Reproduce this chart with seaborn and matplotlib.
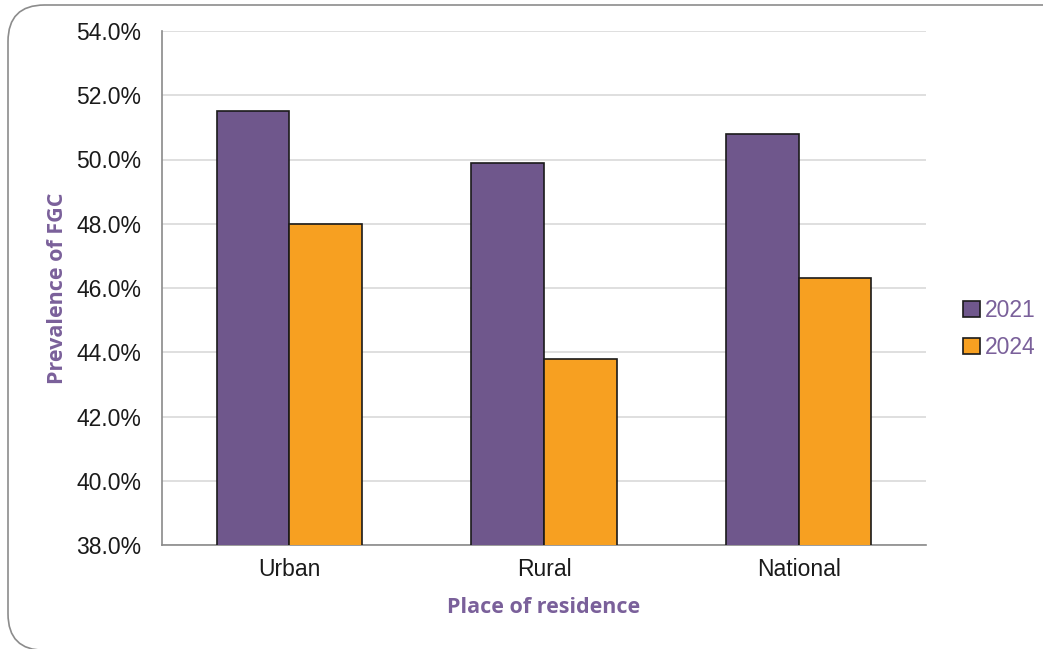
import pandas as pd
import matplotlib.pyplot as plt
import seaborn as sns
from matplotlib.patches import FancyBboxPatch
from matplotlib.ticker import FuncFormatter

# Data
places = ['Urban', 'Rural', 'National']
prev_2021 = [51.5, 49.9, 50.8]
prev_2024 = [48.0, 43.8, 46.3]
years = ['2021', '2024']

df = pd.DataFrame({
    'Place': places * 2,
    'Year': ['2021'] * 3 + ['2024'] * 3,
    'Prevalence': prev_2021 + prev_2024,
})

sns.set_style('white')
plt.rcParams['font.family'] = ['Liberation Sans', 'DejaVu Sans']

purple = '#6F578C'
orange = '#F7A021'
label_col = '#7A609A'

W, H = 1043, 649
fig = plt.figure(figsize=(W / 100, H / 100), dpi=100, facecolor='white')

# rounded frame around the whole chart
frame = FancyBboxPatch((8 / W, -0.002), 1.05, 1 - 5 / H + 0.002,
                       boxstyle='round,pad=0,rounding_size=0.035',
                       transform=fig.transFigure, fc='none', ec='#8c8c8c',
                       lw=1.2, mutation_aspect=W / H, zorder=-1)
fig.patches.append(frame)

ax = fig.add_axes([162 / W, 1 - 545 / H, (926 - 162) / W, (545 - 31) / H])
ax.set_facecolor('none')

sns.barplot(data=df, x='Place', y='Prevalence', hue='Year', order=places,
            hue_order=years, palette=[purple, orange], width=0.57,
            saturation=1, edgecolor='#1a1a1a', linewidth=1.2, ax=ax, zorder=3)

ax.set_ylim(38, 54)
ax.set_yticks(range(38, 55, 2))
ax.yaxis.set_major_formatter(FuncFormatter(lambda v, p: f'{v:.1f}%'))
ax.grid(axis='y', color='#d9d9d9', lw=1.2, zorder=0)
ax.set_axisbelow(True)

for s in ['top', 'right']:
    ax.spines[s].set_visible(False)
for s in ['left', 'bottom']:
    ax.spines[s].set_color('#8a8a8a')
    ax.spines[s].set_linewidth(1.2)

ax.tick_params(axis='y', length=0, pad=15, labelsize=16.5, labelcolor='#1a1a1a')
ax.tick_params(axis='x', length=0, pad=9, labelsize=16.5, labelcolor='#1a1a1a')

ax.set_xlabel('Place of residence', fontsize=15.5, fontweight='bold',
              color=label_col, family=['Open Sans', 'DejaVu Sans'], labelpad=12)
ax.set_ylabel('Prevalence of FGC', fontsize=15.5, fontweight='bold',
              color=label_col, family=['Open Sans', 'DejaVu Sans'], labelpad=6)

ax.legend_.remove()
handles, labels = ax.get_legend_handles_labels()
leg = fig.legend(handles, labels, loc='center left',
                 bbox_to_anchor=(952 / W, 1 - 329 / H), frameon=False,
                 fontsize=16.5, handlelength=0.7, handleheight=0.7,
                 handletextpad=0.25, labelspacing=0.65, borderpad=0)
for t in leg.get_texts():
    t.set_color(label_col)

fig.savefig('out.png', dpi=100)
